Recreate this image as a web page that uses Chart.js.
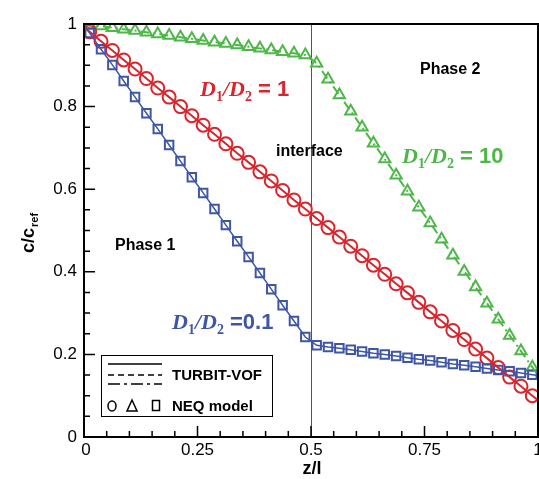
<!DOCTYPE html>
<html>
<head>
<meta charset="utf-8">
<script src="https://cdn.jsdelivr.net/npm/chart.js@4"></script>
<style>
  html, body { margin: 0; padding: 0; background: #fff; }
  #wrap { width: 539px; height: 479px; position: relative; }
</style>
</head>
<body>
<div id="wrap"><canvas id="chart" width="539" height="479"></canvas></div>
<script>
// cell-centre positions of the NEQ model points
const zCells = [0.0125, 0.0375, 0.0625, 0.0875, 0.1125, 0.1375, 0.1625, 0.1875, 0.2125, 0.2375,
  0.2625, 0.2875, 0.3125, 0.3375, 0.3625, 0.3875, 0.4125, 0.4375, 0.4625, 0.4875,
  0.5125, 0.5375, 0.5625, 0.5875, 0.6125, 0.6375, 0.6625, 0.6875, 0.7125, 0.7375,
  0.7625, 0.7875, 0.8125, 0.8375, 0.8625, 0.8875, 0.9125, 0.9375, 0.9625, 0.9875];

// D1/D2 = 1
const redValues = [0.981, 0.958, 0.936, 0.913, 0.891, 0.868, 0.845, 0.823, 0.800, 0.778,
  0.755, 0.733, 0.710, 0.687, 0.665, 0.642, 0.620, 0.597, 0.574, 0.552,
  0.529, 0.507, 0.484, 0.462, 0.439, 0.416, 0.394, 0.371, 0.349, 0.326,
  0.303, 0.281, 0.258, 0.236, 0.213, 0.191, 0.168, 0.145, 0.123, 0.100];

// D1/D2 = 0.1
const blueValues = [0.978, 0.939, 0.901, 0.862, 0.823, 0.784, 0.746, 0.707, 0.668, 0.629,
  0.591, 0.552, 0.513, 0.474, 0.436, 0.397, 0.358, 0.319, 0.281, 0.242,
  0.222, 0.218, 0.215, 0.211, 0.207, 0.203, 0.200, 0.196, 0.192, 0.188,
  0.185, 0.181, 0.177, 0.174, 0.170, 0.166, 0.162, 0.159, 0.155, 0.151];

// D1/D2 = 10
const greenValues = [0.999, 0.995, 0.991, 0.987, 0.984, 0.980, 0.976, 0.972, 0.968, 0.964,
  0.960, 0.956, 0.953, 0.949, 0.945, 0.941, 0.937, 0.933, 0.929, 0.925,
  0.905, 0.866, 0.828, 0.789, 0.750, 0.711, 0.673, 0.634, 0.595, 0.556,
  0.518, 0.479, 0.440, 0.401, 0.363, 0.324, 0.285, 0.246, 0.208, 0.169];

// TURBIT-VOF boundary values at z/l = 0 and z/l = 1
const redEnds = [0.992, 0.089];
const blueEnds = [0.997, 0.149];
const greenEnds = [1.0, 0.150];

const xTicks = [0, 0.25, 0.5, 0.75, 1];
const yTicks = [0, 0.2, 0.4, 0.6, 0.8, 1];

const RED = '#d7262d';
const BLUE = '#3f56a6';
const GREEN = '#4db748';
const SANS = '"Liberation Sans", Arial, sans-serif';

function points(values) {
  return zCells.map((z, i) => ({ x: z, y: values[i] }));
}

function linePoints(values, ends) {
  return [{ x: 0, y: ends[0] }, ...points(values), { x: 1, y: ends[1] }];
}

function fmt(v) {
  return String(Math.round(v * 100) / 100);
}

// frame, inward ticks, interface line, labels and legend
const decor = {
  id: 'decor',
  beforeDatasetsDraw(chart) {
    const { ctx, chartArea: a, scales } = chart;
    const xi = scales.x.getPixelForValue(0.5);
    ctx.save();
    ctx.strokeStyle = '#555';
    ctx.lineWidth = 1;
    ctx.beginPath();
    ctx.moveTo(Math.round(xi) + 0.5, a.top);
    ctx.lineTo(Math.round(xi) + 0.5, a.bottom);
    ctx.stroke();
    ctx.restore();
  },
  afterDraw(chart) {
    const { ctx, chartArea: a, scales } = chart;
    const x = scales.x, y = scales.y;
    ctx.save();

    // frame
    ctx.strokeStyle = '#000';
    ctx.lineWidth = 2;
    ctx.strokeRect(a.left, a.top, a.right - a.left, a.bottom - a.top);

    // ticks (major 11px, minor 6px, pointing in)
    ctx.lineWidth = 1.5;
    ctx.beginPath();
    for (let k = 1; k < 20; k++) {
      const v = k * 0.05;
      const major = k % 5 === 0;
      const px = x.getPixelForValue(v);
      ctx.moveTo(px, a.bottom);
      ctx.lineTo(px, a.bottom - (major ? 11 : 6));
      const yMajor = k % 4 === 0;
      const py = y.getPixelForValue(v);
      ctx.moveTo(a.left, py);
      ctx.lineTo(a.left + (yMajor ? 11 : 6), py);
    }
    ctx.stroke();

    // x tick labels
    ctx.fillStyle = '#000';
    ctx.font = '17px ' + SANS;
    ctx.textAlign = 'center';
    ctx.textBaseline = 'middle';
    xTicks.forEach(v => {
      ctx.fillText(fmt(v), x.getPixelForValue(v) + (v === 0 ? 2 : 0), 450);
    });

    // axis titles
    ctx.font = 'bold 18px ' + SANS;
    ctx.textAlign = 'center';
    ctx.textBaseline = 'alphabetic';
    ctx.fillText('z/l', 312, 474);

    ctx.save();
    ctx.translate(34, 253);
    ctx.rotate(-Math.PI / 2);
    ctx.textAlign = 'left';
    ctx.font = 'bold 18px ' + SANS;
    ctx.fillText('c/c', 0, 0);
    const w = ctx.measureText('c/c').width;
    ctx.font = 'bold 11px ' + SANS;
    ctx.fillText('ref', w + 1, 4);
    ctx.restore();

    // plain annotations
    ctx.textAlign = 'left';
    ctx.font = 'bold 16px ' + SANS;
    ctx.fillText('Phase 2', 420, 74);
    ctx.fillText('Phase 1', 115, 250);
    ctx.fillText('interface', 276, 156);

    // D1/D2 labels
    drawRatio(ctx, 200, 96, RED, ' = 1');
    drawRatio(ctx, 172, 329, BLUE, ' =0.1');
    drawRatio(ctx, 402, 163, GREEN, ' = 10');

    // legend box
    ctx.fillStyle = '#fff';
    ctx.fillRect(101, 355, 171, 61);
    ctx.strokeStyle = '#000';
    ctx.lineWidth = 1;
    ctx.strokeRect(101.5, 355.5, 171, 61);

    ctx.lineWidth = 1.5;
    const rows = [[364, []], [375, [6, 4]], [384, [12, 4, 3, 4]]];
    rows.forEach(([ly, dash]) => {
      ctx.setLineDash(dash);
      ctx.beginPath();
      ctx.moveTo(108, ly);
      ctx.lineTo(162, ly);
      ctx.stroke();
    });
    ctx.setLineDash([]);

    // marker symbols
    ctx.beginPath();
    ctx.ellipse(112, 406, 4, 5, 0, 0, Math.PI * 2);
    ctx.stroke();
    ctx.beginPath();
    ctx.moveTo(132, 400);
    ctx.lineTo(137, 411);
    ctx.lineTo(127, 411);
    ctx.closePath();
    ctx.stroke();
    ctx.strokeRect(152.5, 400.5, 7, 10);

    ctx.fillStyle = '#000';
    ctx.font = 'bold 15px ' + SANS;
    ctx.textBaseline = 'middle';
    ctx.fillText('TURBIT-VOF', 172, 376);
    ctx.fillText('NEQ model', 172, 407);

    ctx.restore();
  }
};

function drawRatio(ctx, x0, base, color, rhs) {
  const serif = '"Liberation Serif", "Times New Roman", serif';
  const parts = [
    ['D', 'italic bold 22px ' + serif, 0],
    ['1', 'bold 14px ' + serif, 5],
    ['/', 'italic bold 22px ' + serif, 0],
    ['D', 'italic bold 22px ' + serif, 0],
    ['2', 'bold 14px ' + serif, 5],
    [rhs, 'bold 22px ' + SANS, 0]
  ];
  ctx.save();
  ctx.fillStyle = color;
  ctx.textAlign = 'left';
  ctx.textBaseline = 'alphabetic';
  let cx = x0;
  parts.forEach(([t, f, dy]) => {
    ctx.font = f;
    ctx.fillText(t, cx, base + dy);
    cx += ctx.measureText(t).width;
  });
  ctx.restore();
}

const lineBase = { showLine: true, pointRadius: 0, fill: false };
const markBase = { showLine: false, backgroundColor: 'rgba(0,0,0,0)' };

new Chart(document.getElementById('chart'), {
  type: 'scatter',
  data: {
    datasets: [
      { ...lineBase, label: 'blue line', data: linePoints(blueValues, blueEnds), borderColor: BLUE, borderWidth: 1.5 },
      { ...lineBase, label: 'red line', data: linePoints(redValues, redEnds), borderColor: RED, borderWidth: 2 },
      { ...lineBase, label: 'green line', data: linePoints(greenValues, greenEnds), borderColor: GREEN, borderWidth: 2, borderDash: [9, 4, 2, 4] },
      { ...markBase, label: 'blue NEQ', data: points(blueValues), pointStyle: 'rect', pointRadius: 6, borderColor: BLUE, pointBorderWidth: 2 },
      { ...markBase, label: 'red NEQ', data: points(redValues), pointStyle: 'circle', pointRadius: 6.5, borderColor: RED, pointBorderWidth: 2 },
      { ...markBase, label: 'green NEQ', data: points(greenValues), pointStyle: 'triangle', pointRadius: 6.5, borderColor: GREEN, pointBorderWidth: 2 }
    ]
  },
  options: {
    responsive: false,
    animation: false,
    layout: { autoPadding: false, padding: { top: 24, right: 1, left: 0, bottom: 0 } },
    plugins: { legend: { display: false }, tooltip: { enabled: false } },
    scales: {
      x: {
        type: 'linear', min: 0, max: 1,
        grid: { display: false, drawTicks: false },
        border: { display: false },
        afterBuildTicks: s => { s.ticks = xTicks.map(v => ({ value: v })); },
        afterFit: s => { s.height = 42; },
        ticks: { display: false }
      },
      y: {
        type: 'linear', min: 0, max: 1,
        grid: { display: false, drawTicks: false },
        border: { display: false },
        afterBuildTicks: s => { s.ticks = yTicks.map(v => ({ value: v })); },
        afterFit: s => { s.width = 84; },
        ticks: {
          padding: 7, color: '#000',
          font: { family: SANS, size: 17 },
          callback: v => fmt(v)
        }
      }
    }
  },
  plugins: [decor]
});
</script>
</body>
</html>
